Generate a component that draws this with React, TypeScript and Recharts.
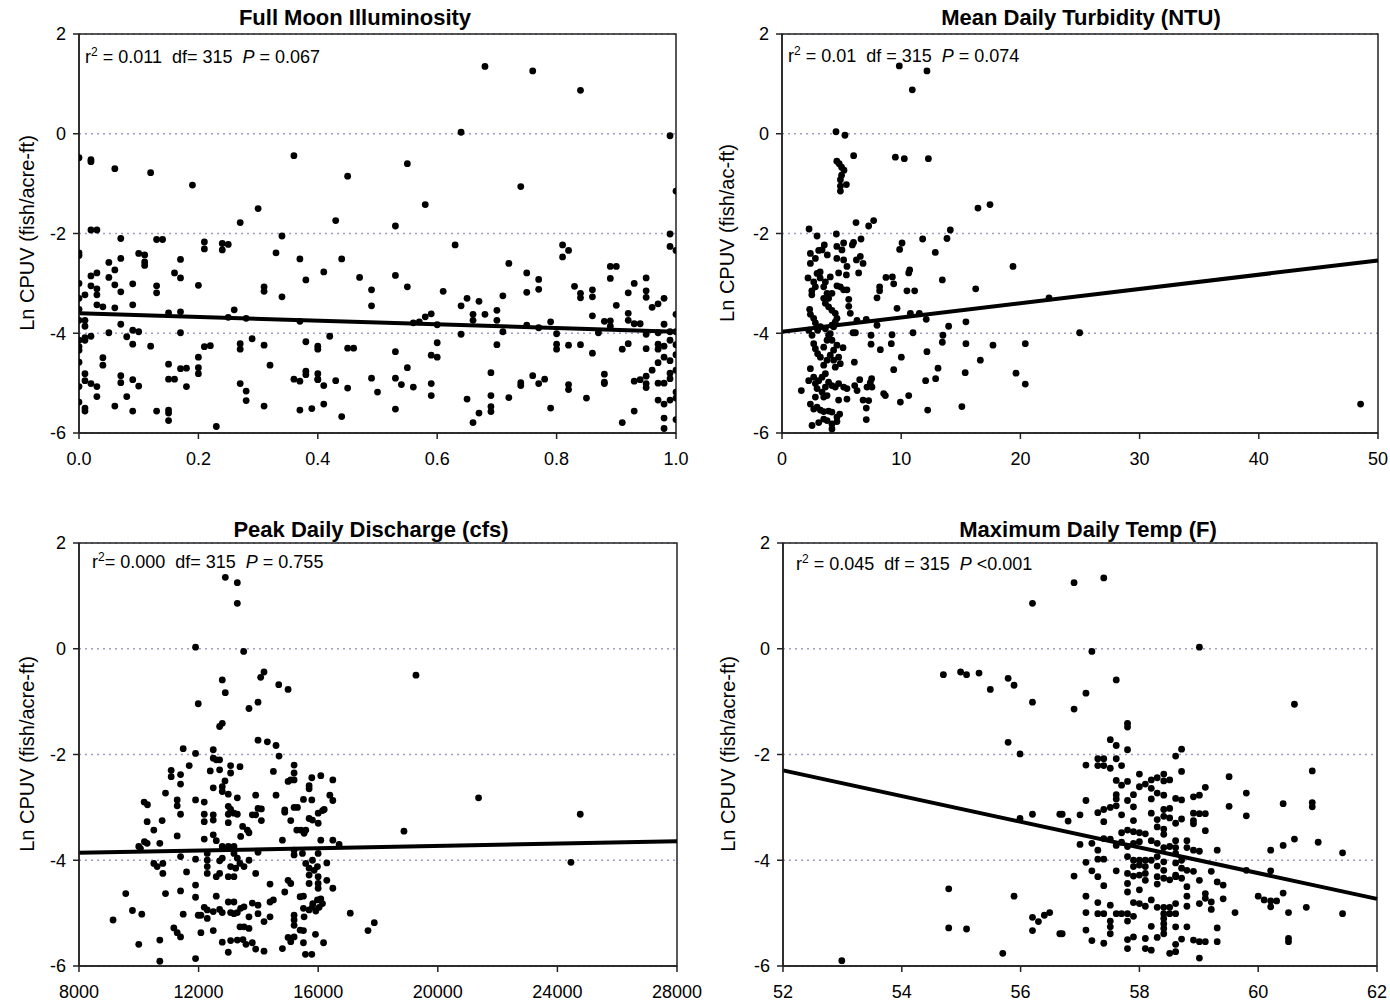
import React from 'react';
import { ScatterChart, Scatter, XAxis, YAxis, CartesianGrid, ReferenceLine, ReferenceArea } from 'recharts';

const FONT = '"Liberation Sans", Arial, sans-serif';
const Y_TICKS = [2, 0, -2, -4, -6];

const moonTicks = [0, 0.2, 0.4, 0.6, 0.8, 1.0];
const turbTicks = [0, 10, 20, 30, 40, 50];
const dischargeTicks = [8000, 12000, 16000, 20000, 24000, 28000];
const tempTicks = [52, 54, 56, 58, 60, 62];

const moonFit: [number, number][] = [[0, -3.6], [1.0, -3.97]];
const turbFit: [number, number][] = [[0, -3.97], [50, -2.54]];
const dischargeFit: [number, number][] = [[8000, -3.86], [28000, -3.64]];
const tempFit: [number, number][] = [[52, -2.3], [62, -4.73]];

const moonPoints: [number, number][] = [
  [0,-0.48],[0.02,-0.52],[0.02,-0.56],[0.06,-0.70],[0.12,-0.78],[0.19,-1.03],[0.30,-1.50],[0.27,-1.78],[0.36,-0.44],[0.43,-1.74],[0.45,-0.85],[0.34,-2.05],[0.33,-2.39],[0.02,-1.93],[0.03,-1.93],[0.07,-2.10],[0.13,-2.12],[0.14,-2.12],[0.21,-2.17],[0.21,-2.31],[0.24,-2.20],[0.24,-2.33],[0.25,-2.22],[0,-2.39],[0,-2.44],[0.05,-2.58],[0.07,-2.50],[0.10,-2.40],[0.11,-2.43],[0.11,-2.57],[0.11,-2.64],[0.17,-2.52],[0.16,-2.79],[0.17,-2.89],[0.03,-2.79],[0.02,-2.85],[0.02,-3.05],[0.06,-2.73],[0.05,-2.88],[0.06,-3.03],[0.07,-3.17],[0.09,-3.01],[0.03,-3.11],[0.03,-3.23],[0.13,-3.05],[0.13,-3.19],[0.20,-3.04],[0.31,-3.07],[0.31,-3.16],[0.34,-3.27],[0.37,-2.51],[0.38,-2.93],[0.41,-2.77],[0.44,-2.51],[0.47,-2.88],[0.49,-3.13],[0.49,-3.45],[0,-3.0],[0,-3.3],[0,-3.52],[0,-3.74],[0.01,-3.23],[0.03,-3.43],[0.04,-3.47],[0.06,-3.49],[0.09,-3.43],[0.15,-3.59],[0.17,-3.57],[0.26,-3.53],[0.25,-3.68],[0.28,-3.70],[0.37,-3.76],[0.01,-3.74],[0.01,-3.86],[0.01,-4.09],[0.01,-4.14],[0.02,-4.06],[0.05,-3.99],[0.07,-3.82],[0.08,-4.07],[0.09,-3.94],[0.09,-4.22],[0.10,-3.97],[0.17,-3.99],[0.12,-4.26],[0.21,-4.27],[0.22,-4.25],[0.27,-4.21],[0.27,-4.32],[0.29,-4.11],[0.31,-4.24],[0.38,-4.17],[0.42,-4.06],[0.40,-4.26],[0.40,-4.32],[0.45,-4.30],[0.46,-4.30],[0,-4.14],[0,-4.27],[0,-4.34],[0,-4.58],[0.04,-4.49],[0.04,-4.64],[0.15,-4.62],[0.17,-4.71],[0.18,-4.70],[0.20,-4.48],[0.20,-4.69],[0.20,-4.81],[0.32,-4.64],[0.38,-4.76],[0.38,-4.83],[0.40,-4.81],[0.40,-4.93],[0.07,-4.85],[0.07,-4.99],[0.01,-4.81],[0.01,-4.95],[0.02,-5.01],[0,-5.07],[0.03,-5.07],[0.09,-4.93],[0.10,-5.06],[0.15,-4.92],[0.16,-4.92],[0.18,-5.07],[0.27,-5.01],[0.28,-5.16],[0.36,-4.92],[0.37,-4.96],[0.40,-4.92],[0.41,-5.05],[0.43,-4.95],[0.45,-5.10],[0.49,-4.90],[0.50,-5.18],[0.03,-5.27],[0.08,-5.27],[0,-5.38],[0.01,-5.50],[0.01,-5.56],[0.06,-5.46],[0.09,-5.56],[0.13,-5.56],[0.15,-5.54],[0.15,-5.60],[0.15,-5.75],[0.28,-5.35],[0.31,-5.46],[0.37,-5.54],[0.39,-5.51],[0.41,-5.42],[0.44,-5.67],[0.23,-5.87],
  [0.55,-0.60],[0.74,-1.06],[0.58,-1.42],[1.0,-1.15],[0.53,-1.85],[0.63,-2.23],[0.99,-2.01],[0.99,-2.26],[1.0,-2.34],[0.81,-2.23],[0.81,-2.47],[0.82,-2.34],[0.72,-2.60],[0.89,-2.66],[0.90,-2.66],[0.53,-2.84],[0.75,-2.79],[0.77,-2.92],[0.77,-3.12],[0.89,-2.90],[0.95,-2.89],[0.55,-3.07],[0.61,-3.16],[0.71,-3.25],[0.75,-3.18],[0.83,-3.06],[0.84,-3.20],[0.84,-3.29],[0.86,-3.13],[0.86,-3.27],[0.92,-3.19],[0.93,-3.00],[0.95,-3.15],[0.95,-3.28],[0.64,-3.45],[0.65,-3.30],[0.67,-3.36],[0.66,-3.62],[0.66,-3.74],[0.68,-3.62],[0.70,-3.54],[0.70,-3.74],[0.90,-3.44],[0.96,-3.48],[0.97,-3.41],[0.98,-3.30],[0.86,-3.65],[0.92,-3.60],[0.92,-3.74],[0.93,-3.81],[0.94,-3.81],[1.0,-3.62],[0.56,-3.79],[0.57,-3.77],[0.58,-3.67],[0.59,-3.61],[0.60,-3.83],[0.75,-3.84],[0.77,-3.89],[0.79,-3.77],[0.88,-3.76],[0.89,-3.75],[0.89,-3.86],[0.98,-3.82],[0.64,-4.02],[0.71,-3.97],[0.80,-4.01],[0.87,-3.99],[0.95,-4.02],[0.97,-3.99],[0.99,-3.97],[1.0,-3.97],[0.60,-4.19],[0.70,-4.23],[0.80,-4.22],[0.80,-4.32],[0.82,-4.24],[0.84,-4.23],[0.53,-4.37],[0.59,-4.44],[0.60,-4.48],[0.86,-4.40],[0.91,-4.32],[0.92,-4.21],[0.95,-4.31],[0.97,-4.22],[0.97,-4.32],[0.98,-4.26],[0.99,-4.14],[1.0,-4.23],[1.0,-4.43],[0.97,-4.59],[0.98,-4.48],[0.99,-4.55],[0.55,-4.69],[0.69,-4.79],[0.96,-4.74],[0.95,-4.86],[0.99,-4.80],[1.0,-4.74],[0.99,-4.91],[0.53,-4.90],[0.54,-5.03],[0.56,-5.08],[0.59,-5.01],[0.59,-5.25],[0.74,-4.99],[0.74,-5.05],[0.76,-4.85],[0.77,-5.01],[0.78,-4.92],[0.82,-5.03],[0.82,-5.13],[0.88,-4.82],[0.88,-4.98],[0.88,-5.01],[0.93,-4.96],[0.94,-4.93],[0.95,-5.01],[0.95,-5.09],[0.97,-5.0],[0.98,-5.0],[1.0,-5.18],[0.65,-5.32],[0.69,-5.25],[0.69,-5.47],[0.69,-5.57],[0.72,-5.29],[0.85,-5.30],[0.97,-5.34],[0.98,-5.42],[0.99,-5.34],[1.0,-5.30],[0.53,-5.52],[0.67,-5.60],[0.66,-5.79],[0.79,-5.50],[0.93,-5.56],[0.91,-5.79],[0.98,-5.70],[0.98,-5.91],[1.0,-5.73],[0.68,1.35],[0.76,1.26],[0.84,0.87],[0.64,0.03],[0.99,-0.04],
];

const turbPoints: [number, number][] = [
  [9.84,1.36],[12.16,1.26],[10.93,0.88],[4.53,0.04],[5.28,-0.03],[6.01,-0.44],[9.51,-0.47],[10.26,-0.50],[12.28,-0.50],[4.6,-0.55],[4.8,-0.6],[5.0,-0.67],[5.2,-0.73],[5.0,-0.83],[4.9,-0.92],[5.4,-1.02],[4.9,-1.05],[4.9,-1.15],[16.44,-1.49],[17.45,-1.42],[6.21,-1.78],[7.69,-1.74],[7.27,-1.85],[2.27,-1.91],[2.94,-2.05],[4.56,-2.01],[14.12,-1.93],[13.84,-2.1],[11.80,-2.11],[6.63,-2.11],[6.0,-2.18],[5.9,-2.23],[5.17,-2.19],[5.03,-2.33],[4.6,-2.26],[4.6,-2.5],[3.55,-2.23],[3.36,-2.33],[3.08,-2.34],[2.38,-2.40],[2.38,-2.60],[2.8,-2.5],[3.8,-2.43],[10.07,-2.19],[9.87,-2.32],[12.86,-2.38],[6.24,-2.53],[6.57,-2.46],[6.8,-2.6],[5.17,-2.53],[5.45,-2.66],[5.4,-2.83],[4.75,-2.79],[6.43,-2.79],[4.05,-2.87],[3.2,-2.89],[2.18,-2.89],[2.66,-2.97],[2.8,-3.07],[2.5,-3.15],[2.5,-3.23],[2.94,-2.80],[3.2,-2.77],[8.72,-2.88],[9.26,-2.87],[9.37,-3.01],[8.19,-3.07],[8.19,-3.15],[7.97,-3.29],[10.48,-3.15],[11.13,-3.15],[10.71,-2.73],[10.63,-2.79],[13.45,-2.93],[16.25,-3.11],[19.38,-2.66],[22.4,-3.29],[5.6,-3.32],[5.6,-3.46],[9.65,-3.50],[5.73,-3.60],[10.77,-3.60],[11.52,-3.60],[12.1,-3.72],[7.07,-3.72],[6.29,-3.74],[7.97,-3.84],[13.98,-3.86],[15.43,-3.77],[5.96,-3.99],[6.16,-3.99],[9.23,-4.03],[10.99,-3.99],[13.50,-4.04],[13.45,-4.18],[7.47,-4.04],[7.47,-4.22],[9.17,-4.21],[15.43,-4.21],[17.7,-4.24],[20.41,-4.21],[8.25,-4.33],[5.12,-4.29],[12.16,-4.37],[10.01,-4.48],[6.07,-4.58],[16.64,-4.54],[9.37,-4.73],[13.09,-4.70],[15.37,-4.79],[19.63,-4.80],[12.89,-4.91],[12.05,-4.95],[7.52,-4.91],[7.41,-4.99],[6.52,-4.93],[20.41,-5.02],[1.62,-5.15],[6.1,-5.05],[6.3,-5.15],[7.13,-5.08],[7.55,-5.08],[8.53,-5.21],[8.67,-5.25],[10.63,-5.25],[6.8,-5.34],[7.27,-5.35],[9.93,-5.38],[15.09,-5.47],[12.22,-5.54],[7.07,-5.50],[7.07,-5.73],[5.45,-5.32],[4.75,-5.34],[24.97,-3.99],[48.54,-5.42],
  [3.64,-2.97],[3.50,-3.07],[3.78,-3.20],[3.50,-3.30],[3.91,-3.30],[4.19,-3.20],[4.61,-3.05],[4.89,-3.07],[5.17,-3.13],[5.45,-3.13],[2.32,-3.52],[2.38,-3.62],[2.66,-3.70],[2.80,-3.79],[3.22,-3.87],[2.99,-3.94],[2.24,-3.94],[2.52,-4.04],[2.66,-4.21],[2.80,-4.31],[2.99,-4.41],[3.22,-4.48],[3.50,-4.28],[3.78,-4.14],[4.05,-4.01],[4.33,-3.87],[3.64,-3.40],[3.91,-3.47],[4.19,-3.54],[4.47,-3.60],[4.61,-3.70],[4.47,-3.77],[4.19,-3.84],[3.64,-3.91],[3.91,-4.04],[4.19,-4.14],[4.61,-4.24],[4.33,-4.34],[4.05,-4.44],[3.78,-4.54],[3.50,-4.64],[2.38,-4.71],[2.66,-4.88],[2.24,-4.95],[2.80,-5.01],[3.08,-4.95],[3.36,-4.88],[3.64,-4.81],[3.91,-4.98],[4.19,-5.05],[4.47,-5.08],[4.75,-5.01],[3.64,-5.08],[3.36,-5.18],[2.94,-5.11],[3.78,-5.25],[3.50,-5.28],[2.80,-5.28],[2.38,-5.42],[2.66,-5.52],[2.94,-5.48],[3.22,-5.54],[3.50,-5.57],[3.91,-5.56],[4.19,-5.58],[4.61,-5.68],[4.84,-5.62],[4.61,-5.77],[4.19,-5.82],[3.78,-5.75],[3.50,-5.72],[3.08,-5.79],[2.52,-5.85],[4.19,-5.92],[4.75,-4.48],[4.89,-4.61],[4.47,-4.68],[4.33,-4.54],[5.45,-5.11],[5.17,-5.08],
];

const dischargePoints: [number, number][] = [
  [12893,1.35],[13295,1.25],[13295,0.86],[11898,0.03],[13507,-0.05],[12792,-0.59],[12893,-0.83],[11988,-1.04],[14188,-0.44],[14076,-0.54],[14680,-0.68],[14993,-0.77],[13685,-1.13],[13987,-1.01],[12703,-1.47],[12792,-1.41],[13987,-1.73],[14300,-1.76],[14590,-1.83],[14690,-2.03],[11485,-1.89],[11898,-1.98],[11686,-2.21],[12490,-1.91],[12490,-2.07],[12591,-2.10],[12703,-2.10],[12390,-2.31],[12703,-2.29],[13071,-2.21],[13384,-2.23],[13071,-2.35],[11083,-2.30],[11083,-2.42],[11396,-2.38],[11396,-2.56],[12882,-2.50],[12490,-2.63],[12792,-2.61],[12792,-2.70],[14501,-2.32],[15194,-2.20],[15194,-2.35],[15194,-2.48],[14993,-2.51],[15082,-2.48],[15786,-2.44],[16087,-2.40],[16489,-2.48],[15696,-2.59],[15696,-2.65],[10893,-2.73],[10178,-2.90],[10290,-2.95],[11284,-2.86],[11284,-2.97],[11898,-2.86],[12189,-2.90],[12993,-2.75],[13295,-2.82],[13909,-2.77],[14590,-2.77],[15506,-2.85],[15786,-2.86],[16389,-2.77],[16489,-2.87],[12993,-2.98],[13071,-3.04],[11396,-3.13],[12189,-3.13],[12189,-3.27],[12490,-3.14],[12490,-3.24],[12993,-3.13],[13182,-3.11],[13295,-3.13],[12993,-3.29],[13987,-3.02],[14099,-3.03],[14099,-3.25],[13797,-3.14],[13909,-3.14],[14882,-3.05],[14882,-3.09],[15194,-3.0],[15306,-3.0],[15082,-3.25],[16000,-3.11],[16145,-3.06],[16200,-3.04],[16000,-3.30],[15696,-3.21],[15808,-3.24],[10781,-3.25],[10279,-3.27],[10502,-3.43],[11284,-3.54],[12189,-3.60],[12490,-3.52],[12591,-3.63],[13407,-3.55],[13473,-3.36],[13630,-3.43],[13685,-3.48],[15283,-3.43],[15417,-3.43],[15529,-3.49],[15585,-3.43],[14803,-3.62],[16087,-3.62],[16489,-3.62],[16700,-3.70],[10189,-3.65],[10279,-3.68],[9999,-3.74],[10055,-3.78],[10703,-3.68],[12792,-3.74],[12993,-3.74],[13183,-3.74],[11396,-3.93],[11898,-3.98],[12289,-3.87],[12289,-4.0],[12289,-4.12],[12703,-4.01],[12792,-3.96],[13183,-3.87],[13295,-3.96],[13384,-4.06],[13518,-4.12],[13686,-4.0],[13239,-4.15],[13183,-4.31],[13987,-3.85],[15194,-3.81],[15194,-3.90],[15473,-3.87],[15584,-4.06],[15696,-4.15],[15808,-4.0],[15864,-4.19],[15975,-4.12],[15998,-3.87],[16288,-4.05],[10502,-4.06],[10614,-4.12],[10804,-4.06],[10804,-4.25],[10893,-4.63],[11597,-4.22],[12289,-4.25],[12591,-4.31],[12703,-4.25],[12993,-4.31],[13071,-4.12],[13909,-4.25],[14389,-4.45],[14993,-4.38],[15082,-4.44],[14882,-4.60],[15696,-4.28],[15696,-4.44],[15998,-4.31],[15998,-4.44],[15998,-4.53],[16288,-4.38],[16489,-4.53],[11898,-4.47],[11396,-4.58],[9564,-4.63],[11898,-4.70],[12591,-4.68],[12993,-4.79],[13182,-4.79],[13797,-4.81],[13987,-4.85],[14389,-4.79],[14501,-4.75],[15395,-4.69],[15506,-4.68],[15819,-4.82],[15975,-4.75],[16087,-4.73],[9787,-4.95],[10100,-5.02],[11485,-5.02],[11988,-5.04],[12077,-5.04],[12189,-4.89],[12289,-4.94],[12289,-5.10],[12490,-4.97],[12703,-4.93],[12792,-4.99],[13071,-4.99],[13183,-5.01],[13295,-4.99],[13406,-4.91],[13518,-4.88],[13685,-5.07],[13987,-5.01],[14389,-5.07],[15194,-5.04],[15194,-5.13],[15194,-5.23],[15506,-4.91],[15528,-5.07],[15696,-4.94],[15808,-4.88],[15920,-4.96],[16031,-4.89],[16143,-4.82],[9139,-5.13],[11172,-5.28],[11284,-5.37],[11396,-5.45],[12077,-5.37],[12490,-5.33],[13384,-5.26],[13518,-5.26],[13685,-5.29],[14188,-5.16],[14993,-5.46],[15194,-5.45],[15082,-5.54],[15395,-5.32],[15506,-5.33],[15909,-5.40],[9999,-5.59],[10703,-5.51],[12792,-5.55],[13071,-5.52],[13295,-5.51],[13484,-5.50],[13585,-5.59],[13797,-5.56],[13909,-5.68],[14188,-5.72],[14803,-5.67],[15506,-5.56],[16179,-5.56],[12993,-5.74],[15573,-5.78],[15786,-5.78],[11898,-5.86],[10703,-5.91],
  [19270,-0.50],[21363,-2.82],[24764,-3.13],[18868,-3.45],[24453,-4.04],[17073,-5.0],[17876,-5.18],[17665,-5.33],
];

const tempPoints: [number, number][] = [
  [56.20,0.86],[54.70,-0.49],[54.99,-0.44],[55.09,-0.49],[55.30,-0.46],[55.49,-0.77],[55.79,-0.56],[55.89,-0.69],[56.20,-1.01],[55.79,-1.77],[55.99,-1.99],[55.99,-3.21],[56.20,-3.13],[56.66,-3.13],[54.79,-4.54],[55.89,-4.68],[56.20,-5.08],[56.30,-5.16],[56.40,-5.04],[56.49,-4.99],[54.79,-5.28],[55.09,-5.30],[56.20,-5.33],[56.66,-5.39],[55.70,-5.76],[52.99,-5.90],
  [56.90,1.25],[57.40,1.34],[57.20,-0.05],[59.01,0.03],[57.61,-0.59],[57.10,-0.84],[56.90,-1.14],[60.61,-1.05],[57.80,-1.41],[57.80,-1.48],[57.51,-1.72],[57.61,-1.83],[57.80,-1.91],[58.71,-1.90],[58.61,-2.03],[57.10,-2.20],[57.30,-2.08],[57.40,-2.08],[57.30,-2.21],[57.40,-2.21],[57.51,-2.26],[57.61,-2.08],[57.70,-2.21],[58.0,-2.37],[57.61,-2.49],[57.70,-2.58],[57.80,-2.51],[58.71,-2.32],[60.91,-2.31],[59.51,-2.42],[59.80,-2.73],[58.0,-2.61],[58.1,-2.56],[58.2,-2.64],[58.2,-2.48],[58.3,-2.44],[58.41,-2.37],[58.41,-2.50],[58.51,-2.48],[57.90,-2.76],[57.61,-2.76],[57.61,-2.84],[57.80,-2.87],[58.3,-2.73],[58.41,-2.77],[58.61,-2.83],[58.71,-2.86],[58.91,-2.80],[59.01,-2.77],[59.11,-2.62],[57.10,-2.87],[58.2,-2.84],[57.90,-2.99],[57.40,-3.04],[57.51,-3.0],[57.61,-2.97],[57.30,-3.10],[57.70,-3.14],[56.70,-3.13],[56.80,-3.26],[57.0,-3.14],[57.40,-3.27],[58.2,-3.11],[58.3,-3.23],[58.41,-3.04],[58.41,-3.17],[58.51,-3.02],[58.51,-3.20],[58.61,-3.30],[58.71,-3.22],[58.91,-3.11],[58.91,-3.25],[58.91,-3.31],[59.01,-3.12],[59.11,-3.12],[59.51,-2.98],[59.80,-3.16],[60.42,-2.93],[60.91,-2.91],[60.91,-2.99],[57.90,-3.25],[57.70,-3.48],[57.80,-3.43],[57.90,-3.46],[58.0,-3.48],[58.1,-3.50],[58.3,-3.37],[58.41,-3.41],[58.41,-3.51],[59.11,-3.44],[57.0,-3.70],[57.20,-3.68],[57.40,-3.59],[57.51,-3.60],[57.61,-3.72],[57.70,-3.66],[57.80,-3.74],[57.90,-3.68],[58.0,-3.65],[58.2,-3.63],[58.3,-3.68],[58.41,-3.76],[58.51,-3.74],[58.61,-3.63],[58.61,-3.76],[58.80,-3.63],[58.80,-3.76],[58.91,-3.81],[59.01,-3.83],[59.31,-3.81],[60.21,-3.81],[60.42,-3.72],[60.61,-3.60],[61.01,-3.66],[61.42,-3.86],[57.30,-3.81],[57.30,-3.98],[57.40,-3.98],[57.10,-4.04],[57.80,-3.93],[57.90,-4.00],[58.0,-4.00],[58.10,-4.00],[57.90,-4.12],[58.0,-4.09],[58.10,-4.12],[58.20,-4.00],[58.30,-3.93],[58.30,-4.11],[58.41,-4.03],[58.41,-4.19],[58.61,-3.87],[58.61,-4.05],[58.71,-4.00],[58.71,-4.15],[58.80,-4.19],[58.61,-4.31],[57.20,-4.20],[57.61,-4.20],[57.30,-4.31],[56.90,-4.30],[57.40,-4.48],[57.80,-4.25],[57.80,-4.44],[57.80,-4.60],[57.90,-4.30],[58.0,-4.28],[58.10,-4.25],[58.10,-4.38],[58.30,-4.31],[58.30,-4.45],[58.41,-4.34],[58.51,-4.37],[58.61,-4.28],[58.91,-4.21],[59.01,-4.38],[59.21,-4.21],[59.31,-4.41],[59.41,-4.47],[58.71,-4.34],[58.80,-4.50],[59.80,-4.19],[60.21,-4.20],[58.0,-4.56],[57.10,-4.68],[57.90,-4.80],[58.0,-4.82],[58.10,-4.87],[58.20,-4.75],[58.30,-4.89],[58.41,-4.89],[58.51,-4.89],[58.61,-4.82],[58.61,-5.01],[58.51,-5.01],[58.41,-5.01],[58.80,-4.68],[58.80,-4.87],[59.01,-4.82],[59.11,-4.63],[59.11,-4.72],[59.21,-4.79],[59.41,-4.73],[59.21,-4.93],[59.61,-4.99],[60.0,-4.68],[60.1,-4.75],[60.21,-4.77],[60.31,-4.77],[60.42,-4.62],[60.21,-4.88],[60.51,-4.99],[60.81,-4.89],[61.42,-5.01],[57.10,-4.99],[57.30,-4.80],[57.30,-5.01],[57.40,-5.01],[57.51,-4.85],[57.61,-5.01],[57.70,-5.01],[57.80,-5.01],[57.80,-5.15],[57.90,-5.06],[57.51,-5.15],[57.51,-5.26],[57.51,-5.39],[56.70,-5.39],[57.10,-5.32],[57.20,-5.52],[57.40,-5.57],[57.80,-5.50],[57.90,-5.45],[57.80,-5.67],[58.1,-5.48],[58.1,-5.67],[58.2,-5.70],[58.2,-5.25],[58.3,-5.46],[58.41,-5.10],[58.41,-5.20],[58.41,-5.29],[58.41,-5.39],[58.61,-5.26],[58.61,-5.59],[58.51,-5.76],[58.61,-5.73],[58.71,-5.49],[58.80,-5.26],[58.91,-5.51],[59.01,-5.54],[59.11,-5.54],[59.01,-5.85],[59.31,-5.28],[59.31,-5.54],[60.51,-5.48],[60.51,-5.54],
];

const Dot = (p: any) => <circle cx={p.cx} cy={p.cy} r={3.4} fill="#000" />;

type PanelProps = {
  left: number; top: number; width: number; height: number;
  margin: { top: number; right: number; bottom: number; left: number };
  yAxisWidth: number;
  points: [number, number][];
  xDomain: [number, number];
  xTicks: number[];
  xFmt?: (v: number) => string;
  fit: [number, number][];
  tickMargin: number;
};

function Panel(props: PanelProps) {
  const { left, top, width, height, margin, yAxisWidth, points, xDomain, xTicks, xFmt, fit, tickMargin } = props;
  const data = points.map(([x, y]) => ({ x, y }));
  return (
    <div style={{ position: 'absolute', left, top }}>
      <ScatterChart width={width} height={height} margin={margin} style={{ fontFamily: FONT }}>
        <CartesianGrid horizontal vertical={false} stroke="#9c9cc8" strokeDasharray="2 4" strokeWidth={1.3} />
        <XAxis
          type="number" dataKey="x" domain={xDomain} ticks={xTicks} tickFormatter={xFmt}
          allowDataOverflow interval={0} height={30} tickSize={6} tickMargin={tickMargin}
          tick={{ fill: '#000', fontSize: 18, fontFamily: FONT }}
          axisLine={{ stroke: '#222', strokeWidth: 1.5 }} tickLine={{ stroke: '#222', strokeWidth: 1.5 }}
        />
        <YAxis
          type="number" dataKey="y" domain={[-6, 2]} ticks={Y_TICKS} allowDataOverflow interval={0}
          width={yAxisWidth} tickSize={6} tickMargin={7}
          tick={{ fill: '#000', fontSize: 18, fontFamily: FONT }}
          axisLine={{ stroke: '#222', strokeWidth: 1.5 }} tickLine={{ stroke: '#222', strokeWidth: 1.5 }}
        />
        <ReferenceArea x1={xDomain[0]} x2={xDomain[1]} y1={-6} y2={2} fill="none" stroke="#222" strokeWidth={1.5} ifOverflow="visible" />
        <Scatter data={data} isAnimationActive={false} shape={Dot} />
        <ReferenceLine
          segment={[{ x: fit[0][0], y: fit[0][1] }, { x: fit[1][0], y: fit[1][1] }]}
          stroke="#000" strokeWidth={4} ifOverflow="visible"
        />
      </ScatterChart>
    </div>
  );
}

function Stats({ x, y, r2, mid, p }: { x: number; y: number; r2: string; mid: string; p: string }) {
  return (
    <text x={x} y={y} fontSize={18} fontFamily={FONT} fill="#000" style={{ whiteSpace: 'pre' }}>
      r<tspan dy={-7} fontSize={12}>2</tspan><tspan dy={7}>{r2 + mid}</tspan><tspan fontStyle="italic">P</tspan><tspan>{p}</tspan>
    </text>
  );
}

export default function App() {
  return (
    <div style={{ position: 'absolute', left: 0, top: 0, width: 1390, height: 1003, background: '#fff' }}>
      <Panel left={0} top={0} width={700} height={480} margin={{ top: 34, right: 24, bottom: 17, left: 0 }} yAxisWidth={79}
        points={moonPoints} xDomain={[0, 1]} xTicks={moonTicks} xFmt={(v) => v.toFixed(1)} fit={moonFit} tickMargin={13} />
      <Panel left={700} top={0} width={690} height={480} margin={{ top: 34, right: 12, bottom: 17, left: 0 }} yAxisWidth={82}
        points={turbPoints} xDomain={[0, 50]} xTicks={turbTicks} fit={turbFit} tickMargin={13} />
      <Panel left={0} top={490} width={730} height={513} margin={{ top: 53, right: 53, bottom: 7, left: 0 }} yAxisWidth={79}
        points={dischargePoints} xDomain={[8000, 28000]} xTicks={dischargeTicks} fit={dischargeFit} tickMargin={13} />
      <Panel left={700} top={490} width={690} height={513} margin={{ top: 53, right: 13, bottom: 7, left: 0 }} yAxisWidth={83}
        points={tempPoints} xDomain={[52, 62]} xTicks={tempTicks} fit={tempFit} tickMargin={13} />
      <svg width={1390} height={1003} style={{ position: 'absolute', left: 0, top: 0, pointerEvents: 'none' }}>
        <g fontFamily={FONT} fontWeight="bold" fontSize={22} textAnchor="middle" fill="#000">
          <text x={355} y={25}>Full Moon Illuminosity</text>
          <text x={1081} y={25}>Mean Daily Turbidity (NTU)</text>
          <text x={371} y={537}>Peak Daily Discharge (cfs)</text>
          <text x={1088} y={537}>Maximum Daily Temp (F)</text>
        </g>
        <g fontFamily={FONT} fontSize={20} textAnchor="middle" fill="#000">
          <text x={34} y={233} transform="rotate(-90 34 233)">Ln CPUV (fish/acre-ft)</text>
          <text x={734} y={233} transform="rotate(-90 734 233)">Ln CPUV (fish/ac-ft)</text>
          <text x={34} y={754} transform="rotate(-90 34 754)">Ln CPUV (fish/acre-ft)</text>
          <text x={735} y={754} transform="rotate(-90 735 754)">Ln CPUV (fish/acre-ft)</text>
        </g>
        <Stats x={85} y={63} r2=" = 0.011" mid="  df= 315  " p=" = 0.067" />
        <Stats x={788} y={62} r2=" = 0.01" mid="  df = 315  " p=" = 0.074" />
        <Stats x={92} y={568} r2="= 0.000" mid="  df= 315  " p=" = 0.755" />
        <Stats x={796} y={570} r2=" = 0.045" mid="  df = 315  " p=" <0.001" />
      </svg>
    </div>
  );
}
